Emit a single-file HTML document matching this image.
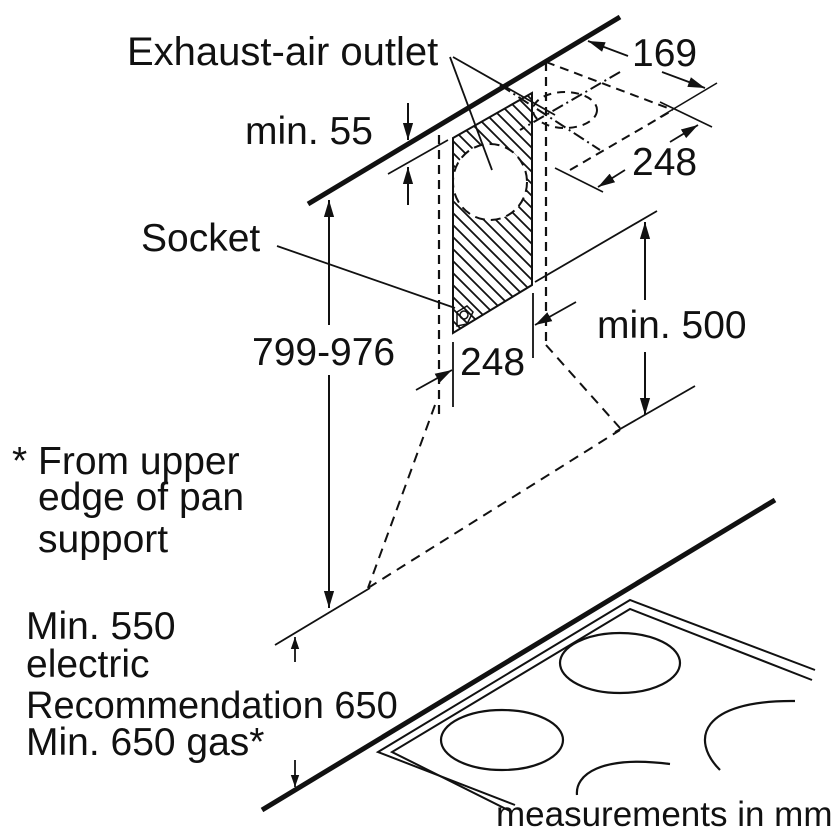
<!DOCTYPE html>
<html><head><meta charset="utf-8"><style>
html,body{margin:0;padding:0;background:#fff;}
svg{display:block}
text{font-family:"Liberation Sans",Arial,sans-serif;font-size:39px;fill:#111}
</style></head><body>
<svg width="840" height="840" viewBox="0 0 840 840" xmlns="http://www.w3.org/2000/svg">
<defs>
<marker id="ah" viewBox="0 0 10 10" refX="10" refY="5" markerWidth="12" markerHeight="12" markerUnits="userSpaceOnUse" orient="auto"><path d="M0,1.5 L10,5 L0,8.5 z" fill="#111"/></marker>
<marker id="ahb" viewBox="0 0 10 10" refX="10" refY="5" markerWidth="17" markerHeight="17" markerUnits="userSpaceOnUse" orient="auto"><path d="M0,2 L10,5 L0,8 z" fill="#111"/></marker>
<clipPath id="cp"><polygon points="453,138 532,93 532,285 453,333"/></clipPath>
</defs>
<g stroke="#111" fill="none" stroke-width="2">
<line x1="308" y1="204" x2="620" y2="17" stroke-width="5"/>
<g clip-path="url(#cp)" stroke-width="1.8">
<line x1="300" y1="0" x2="700" y2="400"/><line x1="300" y1="12" x2="700" y2="412"/><line x1="300" y1="24" x2="700" y2="424"/><line x1="300" y1="36" x2="700" y2="436"/><line x1="300" y1="48" x2="700" y2="448"/><line x1="300" y1="60" x2="700" y2="460"/><line x1="300" y1="72" x2="700" y2="472"/><line x1="300" y1="84" x2="700" y2="484"/><line x1="300" y1="96" x2="700" y2="496"/><line x1="300" y1="108" x2="700" y2="508"/><line x1="300" y1="120" x2="700" y2="520"/><line x1="300" y1="132" x2="700" y2="532"/><line x1="300" y1="144" x2="700" y2="544"/><line x1="300" y1="156" x2="700" y2="556"/><line x1="300" y1="168" x2="700" y2="568"/><line x1="300" y1="180" x2="700" y2="580"/><line x1="300" y1="192" x2="700" y2="592"/><line x1="300" y1="204" x2="700" y2="604"/><line x1="300" y1="216" x2="700" y2="616"/><line x1="300" y1="228" x2="700" y2="628"/><line x1="300" y1="240" x2="700" y2="640"/><line x1="300" y1="252" x2="700" y2="652"/><line x1="300" y1="264" x2="700" y2="664"/><line x1="300" y1="276" x2="700" y2="676"/><line x1="300" y1="288" x2="700" y2="688"/><line x1="300" y1="300" x2="700" y2="700"/><line x1="300" y1="312" x2="700" y2="712"/><line x1="300" y1="324" x2="700" y2="724"/><line x1="300" y1="336" x2="700" y2="736"/><line x1="300" y1="348" x2="700" y2="748"/><line x1="300" y1="360" x2="700" y2="760"/><line x1="300" y1="372" x2="700" y2="772"/><line x1="300" y1="384" x2="700" y2="784"/>
<line x1="300" y1="-12" x2="700" y2="388"/><line x1="300" y1="-24" x2="700" y2="376"/><line x1="300" y1="-36" x2="700" y2="364"/><line x1="300" y1="-48" x2="700" y2="352"/><line x1="300" y1="-60" x2="700" y2="340"/><line x1="300" y1="-72" x2="700" y2="328"/><line x1="300" y1="-84" x2="700" y2="316"/><line x1="300" y1="-96" x2="700" y2="304"/><line x1="300" y1="-108" x2="700" y2="292"/><line x1="300" y1="-120" x2="700" y2="280"/><line x1="300" y1="-132" x2="700" y2="268"/><line x1="300" y1="-144" x2="700" y2="256"/><line x1="300" y1="-156" x2="700" y2="244"/><line x1="300" y1="-168" x2="700" y2="232"/><line x1="300" y1="-180" x2="700" y2="220"/><line x1="300" y1="-192" x2="700" y2="208"/><line x1="300" y1="-204" x2="700" y2="196"/><line x1="300" y1="-216" x2="700" y2="184"/><line x1="300" y1="-228" x2="700" y2="172"/>
<ellipse cx="490" cy="182" rx="37" ry="38" fill="#fff" stroke="none"/>
</g>
<ellipse cx="490" cy="182" rx="37" ry="38" stroke-dasharray="10,6"/>
<polygon points="453,138 532,93 532,285 453,333"/>
<path d="M457,312 l10,-6 l6,6 l-6,12 l-10,2 z" stroke-width="1.5"/>
<circle cx="464" cy="315" r="4" stroke-width="1.5"/>
<line x1="439" y1="135" x2="439" y2="420" stroke-dasharray="9,6" stroke-width="2.2"/>
<line x1="546" y1="62" x2="546" y2="345" stroke-dasharray="9,6" stroke-width="2.2"/>
<line x1="546" y1="62" x2="673" y2="110" stroke-dasharray="9,6"/>
<line x1="570" y1="170" x2="673" y2="110" stroke-dasharray="9,6"/>
<line x1="620" y1="72" x2="520" y2="130" stroke-dasharray="12,4,2,4"/>
<line x1="500" y1="85" x2="600" y2="150" stroke-dasharray="12,4,2,4"/>
<ellipse cx="565" cy="110" rx="32" ry="18" stroke-dasharray="8,6"/>
<line x1="717" y1="83" x2="660" y2="117" stroke-width="1.6"/>
<line x1="660" y1="102" x2="712" y2="127" stroke-width="1.6"/>
<line x1="555" y1="168" x2="603" y2="192" stroke-width="1.6"/>
<line x1="628" y1="56" x2="588" y2="41" marker-end="url(#ahb)" stroke-width="1.8"/>
<line x1="662" y1="72" x2="705" y2="88" marker-end="url(#ahb)" stroke-width="1.8"/>
<line x1="670" y1="142" x2="698" y2="125" marker-end="url(#ahb)" stroke-width="1.8"/>
<line x1="625" y1="170" x2="598" y2="187" marker-end="url(#ahb)" stroke-width="1.8"/>
<line x1="450" y1="57" x2="492" y2="170" stroke-width="1.8"/>
<line x1="453" y1="57" x2="555" y2="115" stroke-width="1.8"/>
<line x1="408" y1="103" x2="408" y2="140" marker-end="url(#ahb)" stroke-width="2"/>
<line x1="408" y1="205" x2="408" y2="167" marker-end="url(#ahb)" stroke-width="2"/>
<line x1="388" y1="174" x2="448" y2="140" stroke-width="1.6"/>
<line x1="277" y1="246" x2="455" y2="308" stroke-width="1.8"/>
<line x1="329" y1="325" x2="329" y2="200" marker-end="url(#ahb)" stroke-width="2"/>
<line x1="329" y1="375" x2="329" y2="608" marker-end="url(#ahb)" stroke-width="2"/>
<line x1="453" y1="342" x2="453" y2="407" stroke-width="1.8"/>
<line x1="533" y1="293" x2="533" y2="358" stroke-width="1.8"/>
<line x1="416" y1="390" x2="452" y2="370" marker-end="url(#ahb)" stroke-width="1.8"/>
<line x1="576" y1="302" x2="535" y2="325" marker-end="url(#ahb)" stroke-width="1.8"/>
<line x1="535" y1="282" x2="657" y2="211" stroke-width="1.8"/>
<line x1="645" y1="300" x2="645" y2="222" marker-end="url(#ahb)" stroke-width="2"/>
<line x1="645" y1="352" x2="645" y2="415" marker-end="url(#ahb)" stroke-width="2"/>
<line x1="615" y1="432" x2="695" y2="386" stroke-width="1.8"/>
<line x1="546" y1="345" x2="620" y2="428" stroke-dasharray="10,7"/>
<line x1="435" y1="405" x2="368" y2="588" stroke-dasharray="10,7"/>
<line x1="368" y1="588" x2="620" y2="430" stroke-dasharray="10,7"/>
<line x1="275" y1="645" x2="370" y2="588" stroke-width="1.8"/>
<line x1="295" y1="662" x2="295" y2="637" marker-end="url(#ah)" stroke-width="1.8"/>
<line x1="295" y1="760" x2="295" y2="787" marker-end="url(#ah)" stroke-width="1.8"/>
<line x1="262" y1="810" x2="775" y2="500" stroke-width="5"/>
<polyline points="515,805 378,752 630,600 815,670" stroke-width="2"/>
<polyline points="512,812 392,752 630,609 812,680" stroke-width="2"/>
<ellipse cx="620" cy="663" rx="60" ry="30" stroke-width="2.2"/>
<ellipse cx="502" cy="740" rx="61" ry="30" stroke-width="2.2"/>
<path d="M720,770 C690,740 700,700 795,701" stroke-width="2.2"/>
<path d="M577,795 C575,775 600,755 670,764" stroke-width="2.2"/>
</g>
<text x="127" y="65" style="font-size:40px">Exhaust-air outlet</text>
<text x="245" y="144">min. 55</text>
<text x="632" y="66">169</text>
<text x="632" y="175">248</text>
<text x="141" y="251">Socket</text>
<text x="597" y="338">min. 500</text>
<text x="252" y="365">799-976</text>
<text x="460" y="375">248</text>
<text x="12" y="474">* From upper</text>
<text x="38" y="510">edge of pan</text>
<text x="38" y="552">support</text>
<text x="26" y="639">Min. 550</text>
<text x="26" y="677">electric</text>
<text x="26" y="718" style="font-size:38px">Recommendation 650</text>
<text x="26" y="755">Min. 650 gas*</text>
<text x="496" y="826" style="font-size:35px">measurements in mm</text>
</svg>
</body></html>
